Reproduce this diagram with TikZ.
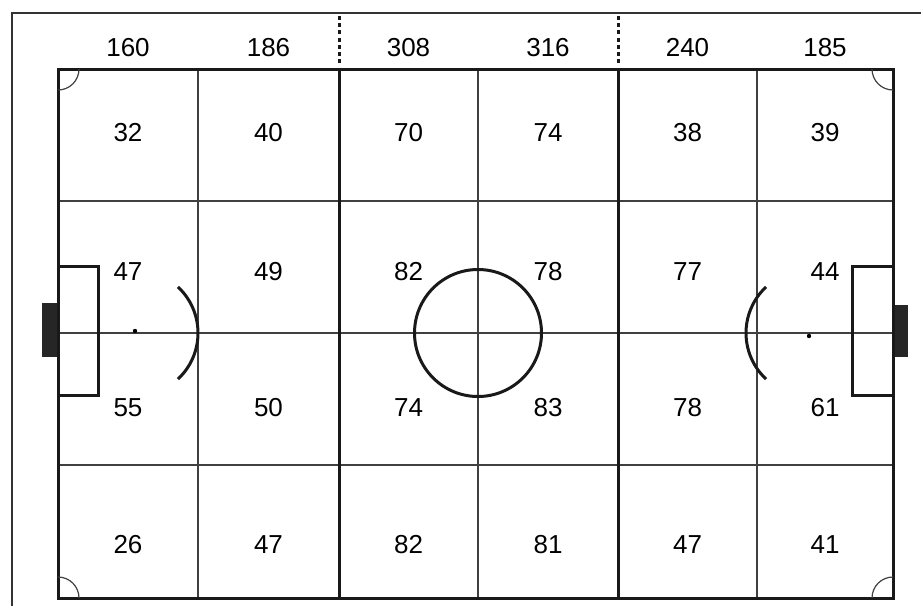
\documentclass[tikz,border=0pt]{standalone}
\usepackage{fontspec}
\setmainfont{Liberation Sans}
\begin{document}
\begin{tikzpicture}[
  x=1pt, y=-1pt,
  every node/.style={font=\fontsize{26}{30}\selectfont, inner sep=0pt},
  frameline/.style={line width=1.5pt, draw=black!80},
  thinline/.style={line width=1.2pt, draw=black!75},
  thickline/.style={line width=3pt, draw=black!90},
  halfmark/.style={line width=3pt, draw=black!90, dash pattern=on 4pt off 3.2pt}
]
\useasboundingbox (0,0) rectangle (921,606);
\draw[frameline] (12,606) -- (12,13) -- (921,13);
\draw[halfmark] (339,16) -- (339,64);
\draw[halfmark] (618,16) -- (618,64);
\foreach \gx in {198,478,757}
  \draw[thinline] (\gx,69) -- (\gx,598);
\foreach \gy in {201,333,465}
  \draw[thinline] (58,\gy) -- (893,\gy);
\fill[black!85] (42,303) rectangle (58,357);
\fill[black!85] (893,305) rectangle (908,357);
\draw[thickline] (58,266) rectangle (98,395);
\draw[thickline] (852,266) rectangle (893,395);
\draw[thickline] (339,69) -- (339,598);
\draw[thickline] (618,69) -- (618,598);
\draw[thickline] (58,69) rectangle (893,598);
\draw[thickline] (478,333) circle (63.5);
\draw[thickline] (135,333) ++(-47:63) arc (-47:47:63);
\draw[thickline] (809,333) ++(133:63) arc (133:227:63);
\fill (135,331) circle (2.2);
\fill (809,336) circle (2.2);
\draw[thinline] (79,69) arc (0:90:21);
\draw[thinline] (79,598) arc (0:-90:21);
\draw[thinline] (872,69) arc (180:90:21);
\draw[thinline] (872,598) arc (180:270:21);
\foreach \cx/\h/\a/\b/\c/\d [count=\i] in {
    128/160/32/47/55/26, 268.5/186/40/49/50/47, 408.5/308/70/82/74/82,
    548/316/74/78/83/81, 687.5/240/38/77/78/47, 825/185/39/44/61/41} {
  \node (top\i) at (\cx,48) {\h};
  \node (ra\i) at (\cx,133) {\a};
  \node (rb\i) at (\cx,272) {\b};
  \node (rc\i) at (\cx,408) {\c};
  \node (rd\i) at (\cx,545) {\d};
}
\end{tikzpicture}
\end{document}
